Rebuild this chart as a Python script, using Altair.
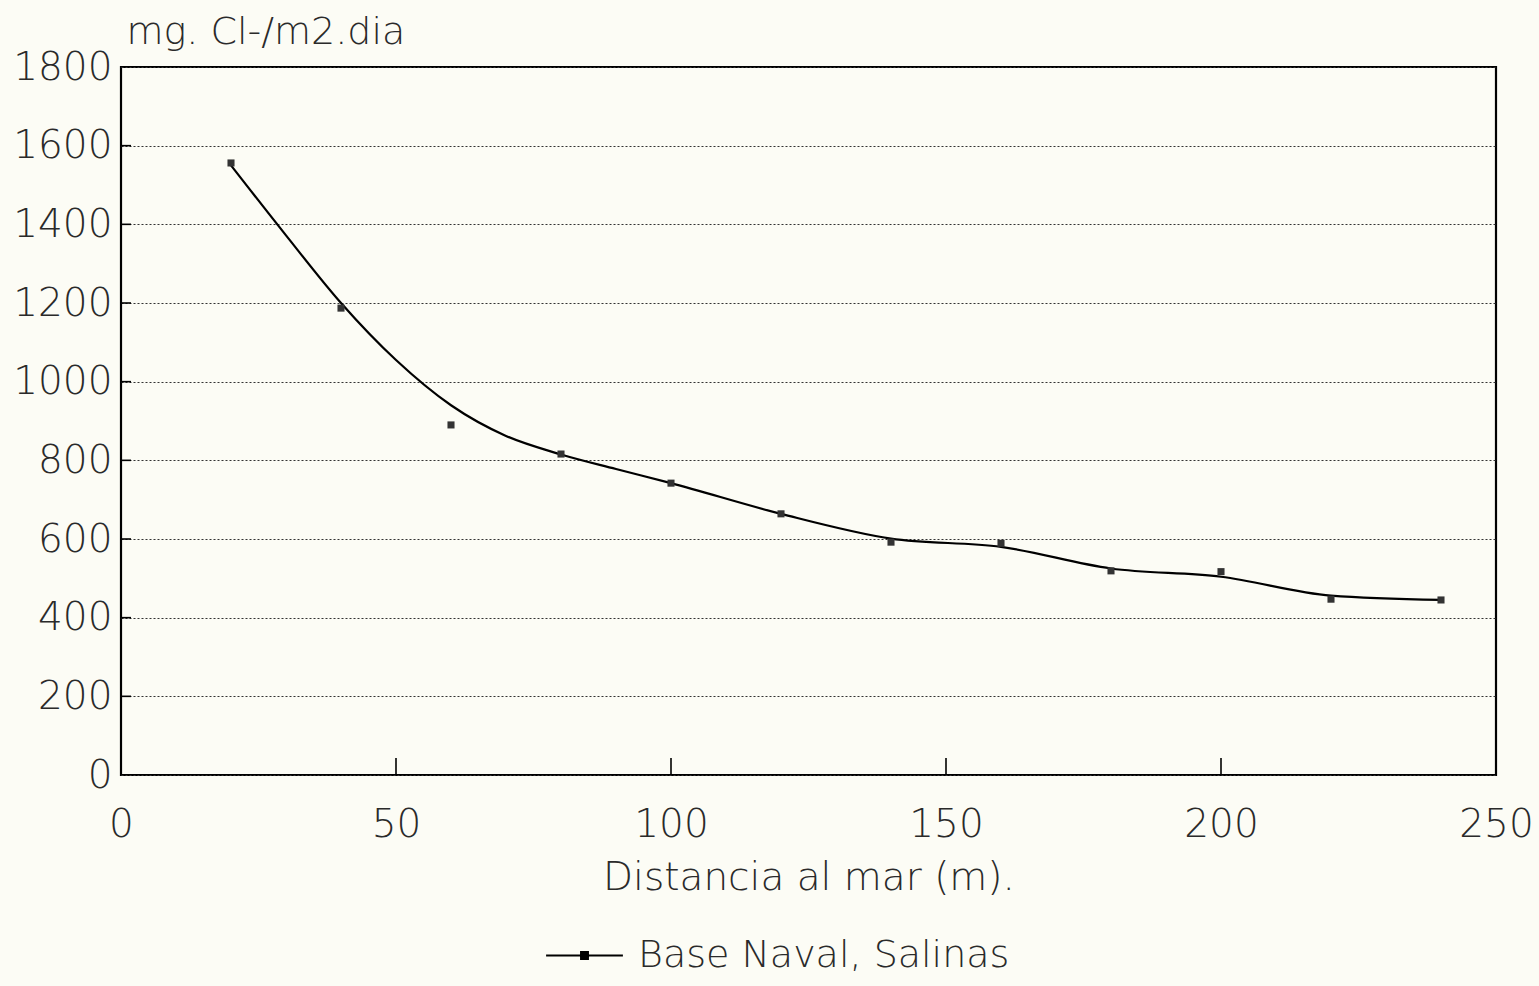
import altair as alt
import pandas as pd

# Measured data points (distance to sea in m, chloride deposition mg Cl-/m2.dia)
dist = [20, 40, 60, 80, 100, 120, 140, 160, 180, 200, 220, 240]
chloride = [1556, 1187, 890, 816, 742, 664, 592, 589, 519, 517, 447, 445]

# Smoothed fitted curve
curve_x = [20, 30, 40, 50, 60, 70, 80, 90, 100, 120, 140, 160, 180, 200, 220, 240]
curve_y = [1550, 1372, 1200, 1055, 940, 862, 815, 778, 742, 664, 601, 580, 525, 504, 456, 445]

series_name = "Base Naval, Salinas"
y_ticks = [0, 200, 400, 600, 800, 1000, 1200, 1400, 1600, 1800]
x_ticks = [0, 50, 100, 150, 200, 250]
y_inner_ticks = [200, 400, 600, 800, 1000, 1200, 1400, 1600]
x_inner_ticks = [50, 100, 150, 200]

FONT = "DejaVu Sans"
INK = "#2a2a2a"
WEIGHT = 300

pts = pd.DataFrame({"d": dist, "c": chloride, "s": series_name})
crv = pd.DataFrame({"d": curve_x, "c": curve_y, "s": series_name})
yt = pd.DataFrame({"c": y_inner_ticks})
xt = pd.DataFrame({"d": x_inner_ticks})

xscale = alt.Scale(domain=[0, 250], nice=False, zero=False)
yscale = alt.Scale(domain=[0, 1800], nice=False)

xaxis = alt.Axis(values=x_ticks, format="d", title="Distancia al mar (m).", grid=False, ticks=False,
                 domain=False, labelFontSize=39, labelPadding=30, titleFontSize=39,
                 titlePadding=14, labelFont=FONT, titleFont=FONT, labelColor=INK,
                 titleColor=INK, titleFontWeight=WEIGHT, labelFontWeight=WEIGHT, labelFlush=False)
yaxis = alt.Axis(values=y_ticks, format="d", title="mg. Cl-/m2.dia", grid=True, gridDash=[2, 2],
                 gridColor="#333", gridWidth=1.2, ticks=False, domain=False,
                 labelFontSize=39, labelPadding=9, labelFont=FONT, labelColor=INK,
                 labelFontWeight=WEIGHT,
                 titleFont=FONT, titleFontSize=38, titleColor=INK, titleFontWeight=WEIGHT,
                 titleAngle=0, titleAlign="left", titleBaseline="alphabetic",
                 titleX=5, titleY=-24, labelFlush=False)

color = alt.Color("s:N", scale=alt.Scale(range=["black"]),
                  legend=alt.Legend(title=None, orient="none", legendX=424, legendY=849,
                                    symbolType="M-1,0L1,0M-0.09,-0.09L0.09,-0.09L0.09,0.09L-0.09,0.09Z",
                                    symbolSize=5900, symbolStrokeWidth=2,
                                    symbolFillColor="black", symbolStrokeColor="black",
                                    labelFontSize=38, labelFont=FONT, labelColor=INK,
                                    labelFontWeight=WEIGHT,
                                    labelOffset=14, labelLimit=600))

line = alt.Chart(crv).mark_line(interpolate="monotone", strokeWidth=2.2).encode(
    x=alt.X("d:Q", scale=xscale, axis=xaxis),
    y=alt.Y("c:Q", scale=yscale, axis=yaxis),
    color=color,
)

points = alt.Chart(pts).mark_point(shape="square", filled=True, size=50, opacity=1,
                                   color="#333").encode(
    x=alt.X("d:Q", scale=xscale),
    y=alt.Y("c:Q", scale=yscale),
)

ytick_rules = alt.Chart(yt).mark_rule(color="black", strokeWidth=1.6).encode(
    y=alt.Y("c:Q", scale=yscale),
    x=alt.value(0),
    x2=alt.value(10),
)

xtick_rules = alt.Chart(xt).mark_rule(color="black", strokeWidth=1.6).encode(
    x=alt.X("d:Q", scale=xscale),
    y=alt.value(708),
    y2=alt.value(691),
)

chart = alt.layer(ytick_rules, xtick_rules, line, points).properties(
    width=1375,
    height=708,
    autosize=alt.AutoSizeParams(type="none"),
    padding={"left": 121, "top": 67, "right": 43, "bottom": 211},
    background="#fcfcf5",
).configure_view(stroke="black", strokeWidth=2.2)

chart.save("out.html", embed_options={"renderer": "svg", "actions": False})
